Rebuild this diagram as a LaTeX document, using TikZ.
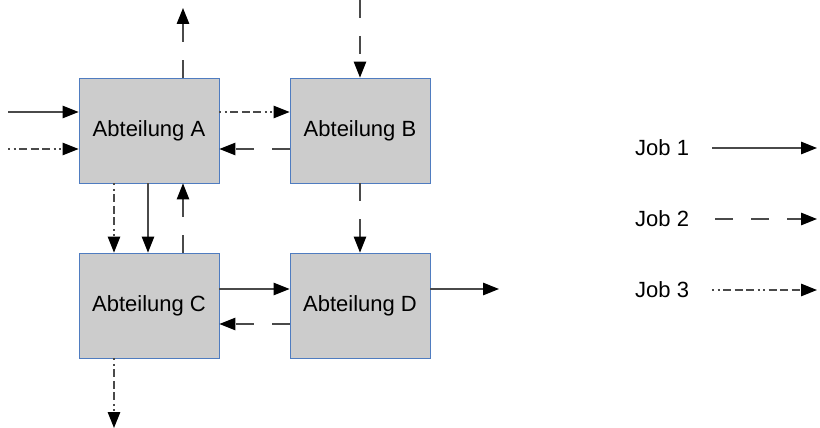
\documentclass[tikz,border=0pt]{standalone}
\usepackage{fontspec}
\setmainfont{Liberation Sans}
\usetikzlibrary{arrows.meta}
\definecolor{boxfill}{HTML}{CCCCCC}
\definecolor{boxline}{HTML}{4F7CC0}
\definecolor{linegray}{HTML}{4A4A4A}
\begin{document}
\begin{tikzpicture}[x=1pt,y=-1pt,
  dept/.style={draw=boxline,fill=boxfill,line width=0.9pt,minimum width=140pt,minimum height=105pt,inner sep=0pt,font=\fontsize{22}{26}\selectfont},
  lbl/.style={font=\fontsize{22}{26}\selectfont,inner sep=0pt,anchor=west},
  conn/.style={draw=linegray,line width=1.2pt,-{Triangle[length=16pt,width=12.5pt,color=black]}},
  jobone/.style={conn},
  jobtwo/.style={conn,dash pattern=on 18pt off 18pt},
  jobthree/.style={conn,dash pattern=on 2pt off 3.5pt on 2pt off 3.5pt on 8pt off 3.5pt on 8pt off 3.5pt on 8pt off 3.5pt}]
\useasboundingbox (0,0) rectangle (820,428);
\node[dept] (A) at (149,130.5) {Abteilung A};
\node[dept] (B) at (360,130.5) {Abteilung B};
\node[dept] (C) at (149,305.5) {Abteilung C};
\node[dept] (D) at (360,305.5) {Abteilung D};
% free ends
\coordinate (aout) at (183,8);
\coordinate (ain1) at (8,112);
\coordinate (ain2) at (8,149);
\coordinate (bin) at (360,0);
\coordinate (cout) at (114,428);
\coordinate (dout) at (499,289);
% connectors
\draw[jobtwo] ([xshift=34pt]A.north) -- (aout);
\draw[jobone] (ain1) -- ([yshift=18.5pt]A.west);
\draw[jobthree] (ain2) -- ([yshift=-18.5pt]A.west);
\draw[jobthree] ([yshift=18.5pt]A.east) -- ([yshift=18.5pt]B.west);
\draw[jobtwo] ([yshift=-18.5pt]B.west) -- ([yshift=-18.5pt]A.east);
\draw[jobtwo] (bin) -- (B.north);
\draw[jobtwo] (B.south) -- (D.north);
\draw[jobthree] ([xshift=-35pt]A.south) -- ([xshift=-35pt]C.north);
\draw[jobone] ([xshift=-1pt]A.south) -- ([xshift=-1pt]C.north);
\draw[jobtwo] ([xshift=34pt]C.north) -- ([xshift=34pt]A.south);
\draw[jobone] ([yshift=16.5pt]C.east) -- ([yshift=16.5pt]D.west);
\draw[jobtwo] ([yshift=-18.5pt]D.west) -- ([yshift=-18.5pt]C.east);
\draw[jobone] ([yshift=16.5pt]D.east) -- (dout);
\draw[jobthree] ([xshift=-35pt]C.south) -- (cout);
% legend
\node[lbl] (j1) at (635,148) {Job 1};
\node[lbl] (j2) at (635,219) {Job 2};
\node[lbl] (j3) at (635,290) {Job 3};
\coordinate (l1s) at (712,148);
\coordinate (l1e) at (817,148);
\coordinate (l2s) at (715,219);
\coordinate (l2e) at (817,219);
\coordinate (l3s) at (712,290);
\coordinate (l3e) at (817,290);
\draw[jobone] (l1s) -- (l1e);
\draw[jobtwo] (l2s) -- (l2e);
\draw[jobthree] (l3s) -- (l3e);
\end{tikzpicture}
\end{document}
